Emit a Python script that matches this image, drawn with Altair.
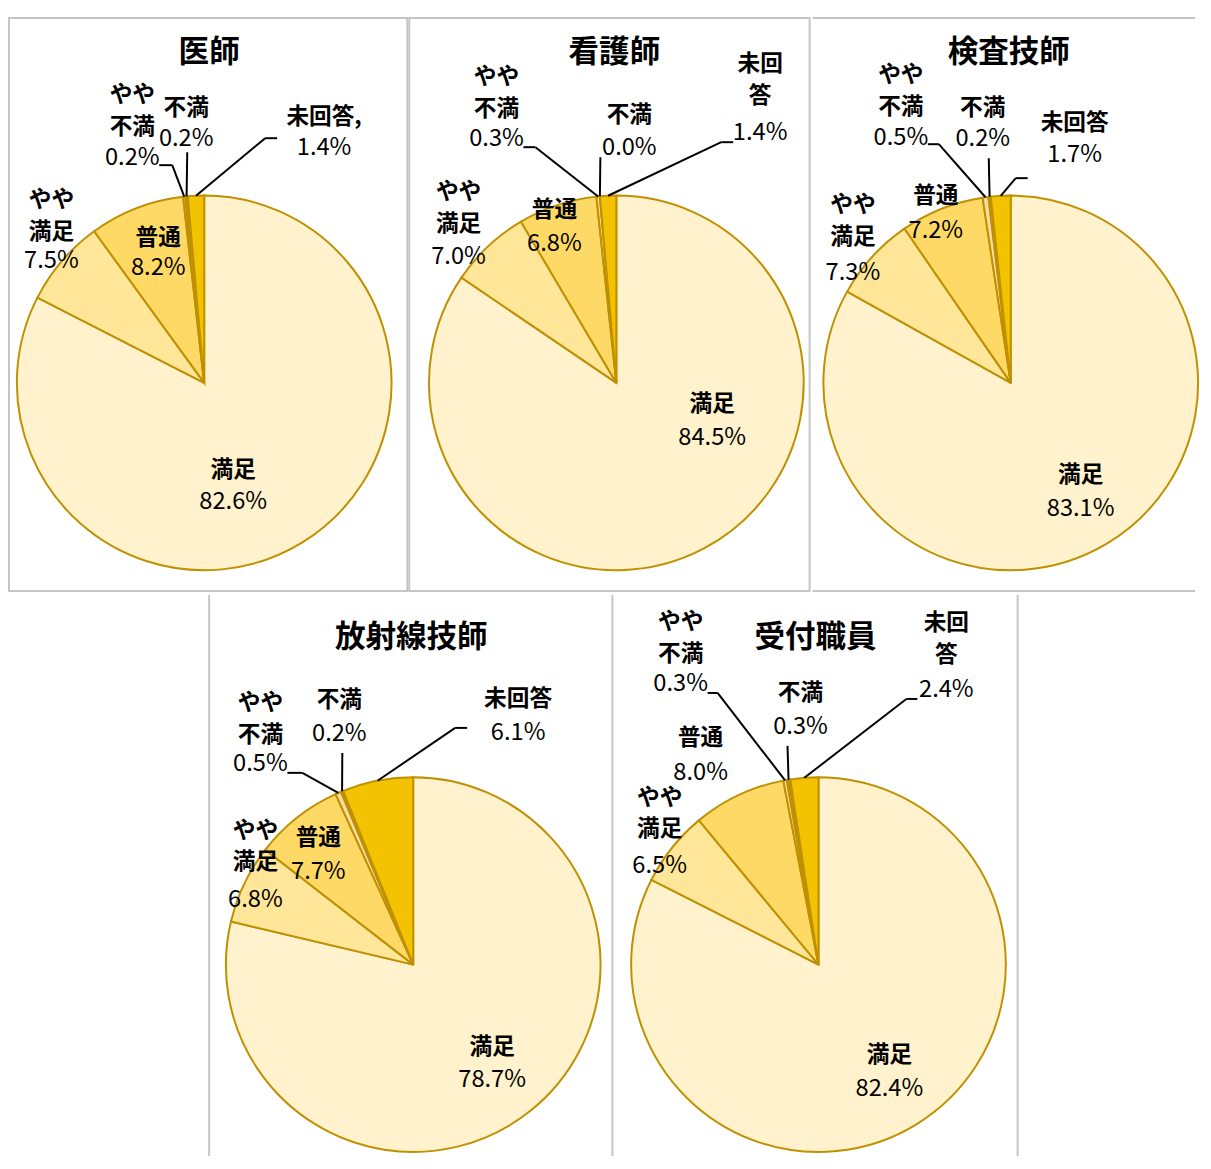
import altair as alt
import pandas as pd

# ---------------- data ----------------
roles = ["医師", "看護師", "検査技師", "放射線技師", "受付職員"]
categories = ["満足", "やや満足", "普通", "やや不満", "不満", "未回答"]

values_ishi = [82.6, 7.5, 8.2, 0.2, 0.2, 1.4]
values_kango = [84.5, 7.0, 6.8, 0.3, 0.0, 1.4]
values_kensa = [83.1, 7.3, 7.2, 0.5, 0.2, 1.7]
values_hoshasen = [78.7, 6.8, 7.7, 0.5, 0.2, 6.1]
values_uketsuke = [82.4, 6.5, 8.0, 0.3, 0.3, 2.4]

names_ishi = ["満足", "やや\n満足", "普通", "やや\n不満", "不満", "未回答,"]
names_kango = ["満足", "やや\n満足", "普通", "やや\n不満", "不満", "未回\n答"]
names_kensa = ["満足", "やや\n満足", "普通", "やや\n不満", "不満", "未回答"]
names_hoshasen = ["満足", "やや\n満足", "普通", "やや\n不満", "不満", "未回答"]
names_uketsuke = ["満足", "やや\n満足", "普通", "やや\n不満", "不満", "未回\n答"]

all_values = [values_ishi, values_kango, values_kensa, values_hoshasen, values_uketsuke]
all_names = [names_ishi, names_kango, names_kensa, names_hoshasen, names_uketsuke]

# ---------------- layout / style ----------------
colors = ["#FFF2CC", "#FFE699", "#FFD966", "#F9DCA5", "#BF9000", "#F3C200"]
EDGE = "#BF9000"
GRID = "#C4C4C4"
R = 190
K = 1.013          # label offset scale
JP = "Noto Sans CJK JP"
LH = 32

panel_w = [404, 406, 388, 409, 408]
panel_h = [581, 581, 581, 569, 569]
SPACER_W = 200
# use the view frame as border, or draw only some sides (x1, y1, x2, y2)
panel_frame = [True, True, False, False, False]
panel_sides = [
    [],
    [],
    [(0, 0, 388, 0), (0, 581, 388, 581)],
    [(0, 0, 0, 569), (409, 0, 409, 569)],
    [(408, 0, 408, 569)],
]
centers = [(198, 370), (210, 370), (201, 370), (207, 375), (206, 375)]
title_pos = [(203, 36), (208, 36), (199, 36), (205, 44), (203, 44)]

# (dx, name-block centre dy, pct dy) relative to pie centre
label_layout = [
    [(29, 87, 119), (-153, -167, -122), (-46, -145, -115), (-72, -272, -225), (-18, -275, -244), (120, -266, -235)],
    [(96, 21, 55), (-158, -175, -126), (-62, -173, -139), (-120, -290, -244), (13, -268, -235), (144, -303, -250)],
    [(70, 92, 126), (-158, -162, -110), (-75, -187, -152), (-110, -292, -245), (-28, -275, -244), (64, -260, -228)],
    [(79, 83, 116), (-158, -118, -65), (-95, -127, -93), (-153, -246, -201), (-74, -265, -231), (105, -266, -232)],
    [(71, 91, 125), (-159, -151, -99), (-118, -227, -192), (-138, -327, -281), (-18, -272, -238), (128, -326, -275)],
]
# leader lines: category index -> (start dx, start dy, elbow dx, elbow dy)
leader_layout = [
    {3: (-45, -218, -32, -218), 4: (-17, -231, -17, -231), 5: (73, -245, 61, -245)},
    {3: (-93, -236, -81, -236), 4: (-16, -226, -16, -226), 5: (117, -241, 105, -241)},
    {3: (-83, -239, -72, -239), 4: (-22, -225, -22, -225), 5: (17, -205, 5, -205)},
    {3: (-126, -192, -111, -192), 4: (-71, -212, -71, -212), 5: (54, -237, 42, -237)},
    {3: (-111, -272, -101, -272), 4: (-31, -219, -31, -219), 5: (99, -266, 88, -266)},
]


def make_panel(i):
    vals = all_values[i]
    names = all_names[i]
    cx, cy = centers[i]
    rows = []
    for k, cat in enumerate(categories):
        dx, ndy, pdy = [v * K for v in label_layout[i][k]]
        nlines = names[k].count("\n") + 1
        r = dict(cat=cat, idx=k, value=vals[k], name=names[k],
                 nx=cx + dx, ny=cy + ndy - (nlines - 1) * LH / 2,
                 px=cx + dx, py=cy + pdy)
        if k in leader_layout[i]:
            sx, sy, ex, ey = [v * K for v in leader_layout[i][k]]
            r.update(lead=1, sx=cx + sx, sy=cy + sy, ex=cx + ex, ey=cy + ey)
        else:
            r.update(lead=0, sx=0, sy=0, ex=0, ey=0)
        rows.append(r)
    df = pd.DataFrame(rows)
    base = alt.Chart(df)

    arcs = base.mark_arc(outerRadius=R, stroke=EDGE, strokeWidth=2).encode(
        theta=alt.Theta("value:Q", stack=True),
        color=alt.Color("cat:N", scale=alt.Scale(domain=categories, range=colors), legend=None),
        order=alt.Order("idx:Q", sort="ascending"),
        x=alt.value(cx),
        y=alt.value(cy),
    )

    seg_a = base.transform_filter("datum.lead == 1").mark_rule(color="black", strokeWidth=2).encode(
        x=alt.X("sx:Q", scale=None, axis=None),
        y=alt.Y("sy:Q", scale=None, axis=None),
        x2="ex:Q",
        y2="ey:Q",
    )

    seg_b = (
        base.transform_window(cum="sum(value)", sort=[alt.SortField("idx")], frame=[None, 0])
        .transform_joinaggregate(total="sum(value)")
        .transform_calculate(mid="(datum.cum - datum.value / 2) / datum.total * 2 * PI")
        .transform_calculate(
            tx=f"{cx} + {R} * sin(datum.mid)",
            ty=f"{cy} - {R} * cos(datum.mid)",
        )
        .transform_filter("datum.lead == 1")
        .mark_rule(color="black", strokeWidth=2)
        .encode(
            x=alt.X("ex:Q", scale=None, axis=None),
            y=alt.Y("ey:Q", scale=None, axis=None),
            x2="tx:Q",
            y2="ty:Q",
        )
    )

    name_t = base.mark_text(
        font=JP, fontSize=23, fontWeight="bold", lineBreak="\n",
        lineHeight=LH, align="center", baseline="middle", color="black",
    ).encode(
        x=alt.X("nx:Q", scale=None, axis=None),
        y=alt.Y("ny:Q", scale=None, axis=None),
        text="name:N",
    )

    pct_t = base.transform_calculate(
        pct="format(datum.value, '.1f') + '%'"
    ).mark_text(
        font=JP, fontSize=24, align="center", baseline="middle", color="black",
    ).encode(
        x=alt.X("px:Q", scale=None, axis=None),
        y=alt.Y("py:Q", scale=None, axis=None),
        text="pct:N",
    )

    tx, ty = title_pos[i]
    title = alt.Chart(pd.DataFrame({"t": [roles[i]]})).mark_text(
        font=JP, fontSize=31, fontWeight="bold", align="center", baseline="middle", color="black",
    ).encode(x=alt.value(tx), y=alt.value(ty), text="t:N")

    layers = [arcs, seg_a, seg_b, name_t, pct_t, title]
    if panel_sides[i]:
        bdf = pd.DataFrame(panel_sides[i], columns=["x1", "y1", "x2", "y2"])
        borders = alt.Chart(bdf).mark_rule(color=GRID, strokeWidth=2).encode(
            x=alt.X("x1:Q", scale=None, axis=None),
            y=alt.Y("y1:Q", scale=None, axis=None),
            x2="x2:Q",
            y2="y2:Q",
        )
        layers = [borders] + layers

    view = (alt.ViewBackground(stroke=GRID, strokeWidth=2) if panel_frame[i]
            else alt.ViewBackground(stroke="transparent"))
    return alt.layer(*layers).properties(width=panel_w[i], height=panel_h[i], view=view)


spacer = alt.Chart(pd.DataFrame({"a": [0]})).mark_point(size=0, opacity=0).encode(
    x=alt.value(0), y=alt.value(1)
).properties(width=SPACER_W, height=569, view=alt.ViewBackground(stroke="transparent"))

row1 = alt.hconcat(make_panel(0), make_panel(1), make_panel(2), spacing=0)
row2 = alt.hconcat(spacer, make_panel(3), make_panel(4), spacing=0)

chart = alt.vconcat(row1, row2, spacing=0).properties(
    padding={"left": 0, "top": 0, "right": 0, "bottom": 0}
).configure(background="white")

chart.save("out.html", embed_options={"renderer": "svg", "actions": False})
